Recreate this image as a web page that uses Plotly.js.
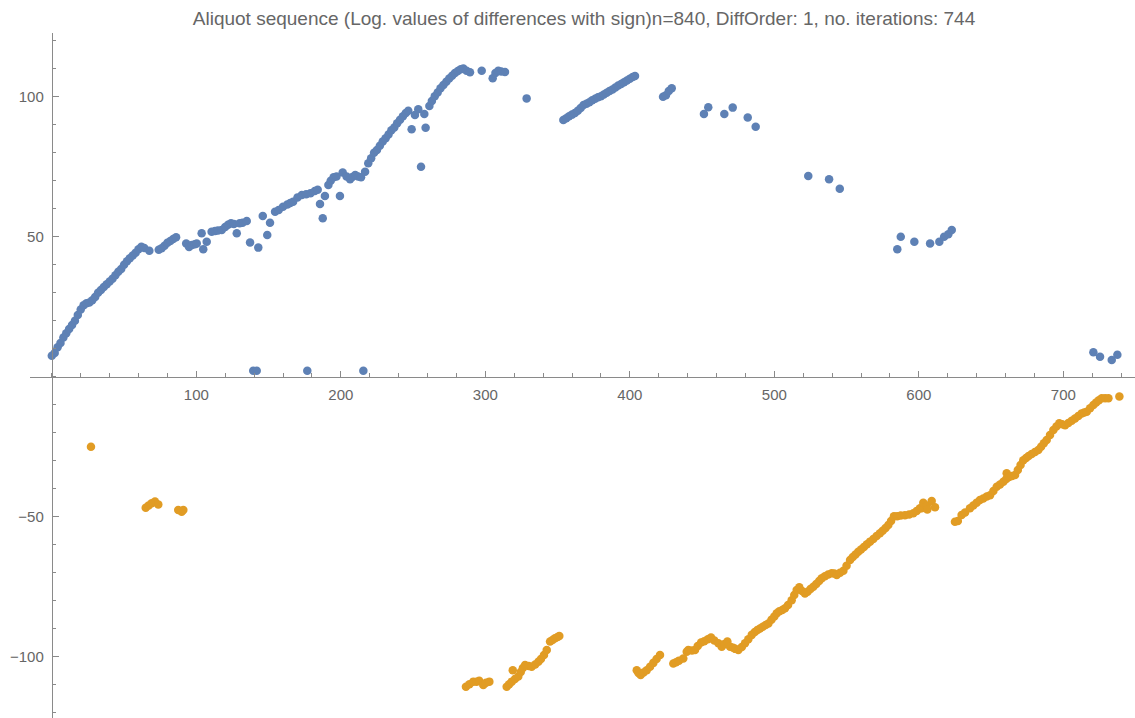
<!DOCTYPE html>
<html>
<head>
<meta charset="utf-8">
<script src="https://cdn.plot.ly/plotly-3.0.1.min.js"></script>
<style>html,body{margin:0;padding:0;background:#fff;}#chart{width:1135px;height:718px;}</style>
</head>
<body>
<div id="chart"></div>
<script>
// Positive differences (log value, with sign) — blue
const posX = [0,2,4,6,8,10,12,14,16,18,20,22,24,26,28,30,32,34,36,38,40,42,44,46,48,50,52,54,56,58,60,62,64,67.5,
  74,76,78,80,82,84,86,
  93,95,97,99,100.3,103.7,104.8,107.2,110.6,113,115,117.6,120,122,124,126,128,130,132,134.9,137.2,139.4,141.8,142.9,146,149.1,151,154.5,157,160,163,165,167,170,173,176,176.8,179,182,184,185.6,187.5,189,191.4,193,195,197,199.4,201.3,204,206.4,208,210,212,214,215.6,216.8,219,221,223,225,227,229,231,233,235,237,239,241,243,245,246.7,249,251.3,253.6,255.5,257.8,258.7,261.3,263,265,267,269,271,273,275,277,279,281,283,284.8,287,289.4,297.5,305.1,307,309,311,313.6,
  328.6,354,356,358,360,362,364,366,368,370,372,374,376,378,380,382,384,386,388,390,392,394,396,398,400,402,403.6,
  423,425,427,429,451.3,454.3,465.4,471.2,481.6,487.1,523.5,537.9,545.3,585.1,587.5,596.9,607.8,614.2,617.5,620.4,622.8,
  720.8,725.4,733.5,737.4];
const posY = [7.5,8.5,10.5,12,14,15.5,17,18.5,20,22,24,25.5,26.2,26.5,27.3,28.5,30,31,32,33,34,35,36.2,37.5,38.5,40,41.2,42.3,43.3,44.3,45.5,46.4,46,45,
  45.3,45.9,46.8,47.8,48.5,49.2,49.8,
  47.6,46.3,47,47.3,47.6,51.2,45.5,48.2,51.8,52,52.2,52.4,53.5,54.3,54.8,54.5,51.2,54.8,55,55.6,47.9,2.1,2.1,46.1,57.4,50.6,55,58.9,59.5,60.7,61.5,62,62.5,64,64.9,65.2,2.1,65.5,66.3,66.8,61.7,56.6,64.5,68.5,70,71.2,71.5,64.5,72.9,71.5,70.5,71.3,72,71.5,71.2,2.1,73.2,76.2,78,80,81,82.5,84,85.2,86.5,88,89,90.5,91.8,93,94.2,95,88.4,93.5,95.5,75,93.8,88.9,96.7,98.5,100.2,101.5,103,104.2,105.3,106.5,107.5,108.5,109.2,109.8,110.1,109.3,108.7,109.3,106.6,108.5,109.3,109,108.8,
  99.4,91.7,92.3,93,93.6,94.2,95,96,97,97.5,98,98.7,99.3,99.8,100.2,100.8,101.4,102,102.6,103.3,104,104.5,105.2,105.8,106.4,107,107.4,
  100,100.5,102,103,93.8,96.2,93.8,96.1,92.6,89.3,71.7,70.5,67.1,45.5,50,48.2,47.6,48.2,50,50.9,52.4,
  8.7,7.1,6,7.8];

// Negative differences — orange
const negX = [27.1,65,67,69.1,71.4,73.7,87.5,89.9,91,
  286.6,289,291.7,294,295.8,298.6,300.5,302.8,
  314.8,316.5,318.3,319,320.5,322.8,324.5,326,327.5,330,332.1,334.5,336.7,338.5,340.6,342.5,344.8,346.5,348.2,350,351.2,
  404.8,406,407.5,409.5,411.7,414,416.3,418.5,420.9,
  430.1,432,434,437,439.4,440.5,443,445.1,447,449.3,451.5,454,456.2,458.5,461.3,463.6,465.5,467.5,469.4,471.5,473,475.1,477.5,479.7,482,484.4,486.5,488.3,490.1,492,494,495.9,498,500,501.7,503.5,505.5,507.4,509.5,512,513.8,515.5,517.3,519.2,521.2,523,525,527,529,531,532.8,535,537.3,539.7,541.5,543.2,545.5,547.8,550,552.4,554.3,556.2,558.1,560,562,564.1,566.2,568.5,570.8,573.1,575,577,578.9,580.8,582.8,585,587.5,590.4,593.3,596.2,598.5,600.8,602,603.1,605.5,605.9,608.9,611.2,
  625,627,629.6,632,635.4,637.7,640,642.3,644.6,647,649.3,651.6,653.9,656.2,658.5,660.8,660.5,662.5,664.5,666.6,668.5,670.4,672.3,674.2,676,678.1,680.4,682.7,684.6,686.5,688.5,690.8,693.1,695.2,697.2,699.2,701.2,703.5,705.8,708.1,710.4,712.7,714.5,716.2,718.5,720.8,722.7,724.6,726.6,728.9,731.2,738.8];
const negY = [-25,-46.8,-46,-45.2,-44.6,-45.6,-47.6,-48.2,-47.6,
  -110.7,-109.8,-108.9,-108.9,-108.6,-110.1,-109.3,-108.9,
  -110.7,-109.8,-108.9,-104.8,-108,-107.1,-105.5,-104,-103,-103.3,-103.6,-102.8,-101.8,-100.8,-99.4,-97.6,-94.6,-94,-93.4,-93,-92.6,
  -104.8,-105.8,-106.5,-105.6,-104.8,-103.6,-102.2,-100.8,-99.4,
  -102.4,-102,-101.4,-100.6,-98.2,-97.6,-97.8,-97.6,-96.2,-94.9,-94.5,-93.8,-93.1,-94.2,-95.2,-96.4,-95.5,-94.6,-96.4,-96.8,-97.2,-97.6,-96.5,-95.2,-93.8,-92.2,-91.2,-90.5,-89.9,-89.3,-88.7,-88.1,-86.8,-85.6,-84.5,-83.8,-83.3,-82.7,-81.5,-79.8,-78,-76.2,-75.2,-76.5,-77.4,-76.8,-75.8,-75,-74,-73,-72,-71.3,-70.6,-70.2,-70.3,-70.8,-70,-69.3,-67.5,-65.5,-64.4,-63.5,-62.5,-61.7,-60.8,-59.8,-58.9,-58,-56.9,-55.9,-55,-54,-53,-51.5,-49.8,-49.8,-49.6,-49.5,-49.2,-48.8,-48,-47,-47,-45,-46,-47.4,-44.4,-46.6,
  -51.8,-51.5,-49.4,-48.5,-47,-46,-45,-44,-43.5,-42.8,-42.3,-40.8,-39.3,-38.5,-37.5,-34.5,-36.5,-35.8,-35.5,-35.1,-33.3,-31.5,-29.8,-29,-28.3,-27.6,-26.9,-26.2,-25,-23.8,-22.6,-20.8,-19,-17.8,-16.6,-17,-17.3,-16.5,-15.7,-14.9,-14,-13.1,-12.8,-12.5,-11.3,-10.1,-9.2,-8.4,-7.7,-7.7,-7.7,-7.1];

const xTicks = [100,200,300,400,500,600,700];
const yTicks = [-100,-50,50,100];
const yTickText = ["\u2212100","\u221250","50","100"];
const titleText = "Aliquot sequence (Log. values of differences with sign)n=840, DiffOrder: 1, no. iterations: 744";

const xRange = [-15.09, 749.6];
const yRange = [-121.89, 122.75];
const axisColor = "#8a8a8a";
const labelColor = "#666666";
const font = "Liberation Sans, Arial, sans-serif";

const traces = [
  {x: posX, y: posY, type: "scatter", mode: "markers", marker: {color: "#5E81B5", size: 8.5}, hoverinfo: "x+y"},
  {x: negX, y: negY, type: "scatter", mode: "markers", marker: {color: "#E19C24", size: 8.5}, hoverinfo: "x+y"}
];

const layout = {
  width: 1135, height: 718,
  margin: {l: 30, r: 0, t: 33, b: 0, pad: 0},
  paper_bgcolor: "#ffffff", plot_bgcolor: "#ffffff",
  showlegend: false,
  font: {family: font, size: 15, color: labelColor},
  title: {text: titleText, font: {family: font, size: 19, color: labelColor},
          xref: "container", x: 584/1135, xanchor: "center", yref: "container", y: 1 - 18/718, yanchor: "middle"},
  xaxis: {
    range: xRange, anchor: "free", position: (0 - yRange[0]) / (yRange[1] - yRange[0]),
    showgrid: false, zeroline: false, showline: true, linecolor: axisColor, linewidth: 1,
    tickmode: "array", tickvals: xTicks, ticktext: xTicks.map(String),
    ticks: "inside", ticklen: 6, tickcolor: axisColor, tickwidth: 1,
    minor: {tickmode: "linear", tick0: 0, dtick: 20, ticks: "inside", ticklen: 3.5, tickcolor: axisColor, tickwidth: 1, showgrid: false},
    tickfont: {family: font, size: 15, color: labelColor}, ticklabelstandoff: 4
  },
  yaxis: {
    range: yRange, anchor: "free", position: (0 - xRange[0]) / (xRange[1] - xRange[0]),
    showgrid: false, zeroline: false, showline: true, linecolor: axisColor, linewidth: 1,
    tickmode: "array", tickvals: yTicks, ticktext: yTickText,
    ticks: "inside", ticklen: 6, tickcolor: axisColor, tickwidth: 1,
    minor: {tickmode: "linear", tick0: 0, dtick: 10, ticks: "inside", ticklen: 3.5, tickcolor: axisColor, tickwidth: 1, showgrid: false},
    tickfont: {family: font, size: 15, color: labelColor}, ticklabelstandoff: 5
  }
};

Plotly.newPlot("chart", traces, layout, {displayModeBar: false});
</script>
</body>
</html>
